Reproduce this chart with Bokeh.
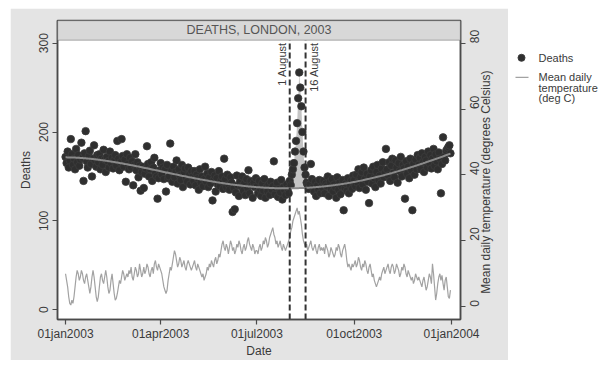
import numpy as np
import pandas as pd
from bokeh.plotting import figure
from bokeh.models import Range1d, LinearAxis, FixedTicker, BoxAnnotation, Label
from bokeh.layouts import row
from bokeh.embed import file_html
from bokeh.resources import INLINE
from bokeh.core.properties import value

# ---------------- data ----------------
deaths_jan = [172, 165, 178, 160, 168, 192, 175, 163, 170, 158, 181, 166, 174, 162, 169, 188, 171, 145, 176, 201, 167, 160, 173, 179, 164, 150, 170, 185, 168, 161, 174]
deaths_feb = [166, 175, 158, 170, 163, 180, 169, 155, 172, 167, 160, 178, 165, 171, 159, 168, 174, 162, 190, 170, 157, 166, 192, 173, 161, 169, 144, 175]
deaths_mar = [164, 158, 171, 160, 167, 140, 163, 175, 157, 166, 149, 162, 134, 155, 161, 137, 153, 159, 184, 164, 150, 158, 166, 145, 160, 171, 154, 150, 125, 148, 157]
deaths_apr = [165, 152, 160, 147, 158, 133, 163, 148, 150, 187, 156, 144, 161, 149, 155, 168, 142, 158, 151, 146, 163, 138, 154, 159, 148, 144, 160, 152, 141, 156]
deaths_may = [150, 145, 156, 140, 152, 148, 135, 158, 143, 150, 139, 147, 161, 144, 153, 138, 149, 142, 155, 123, 146, 151, 133, 148, 141, 156, 139, 145, 150, 136, 170]
deaths_jun = [147, 138, 152, 141, 135, 149, 143, 110, 137, 113, 132, 151, 140, 128, 144, 139, 150, 134, 142, 129, 147, 137, 157, 131, 145, 140, 126, 143, 138, 148]
deaths_jul = [139, 131, 145, 136, 128, 142, 134, 147, 126, 138, 133, 141, 129, 144, 135, 139, 167, 130, 137, 143, 127, 136, 132, 146, 124, 138, 134, 129, 141, 136, 131]
deaths_aug = [145, 140, 152, 158, 165, 178, 190, 210, 238, 267, 250, 229, 200, 178, 160, 152, 143, 140, 136, 141, 164, 147, 138, 133, 144, 128, 140, 135, 146, 131, 139]
deaths_sep = [137, 145, 131, 142, 139, 150, 128, 144, 136, 147, 133, 141, 138, 126, 149, 135, 143, 130, 139, 146, 112, 137, 142, 134, 148, 131, 140, 145, 136, 151]
deaths_oct = [146, 139, 152, 143, 158, 137, 149, 155, 141, 160, 147, 135, 153, 144, 120, 150, 157, 142, 161, 148, 138, 155, 163, 146, 151, 142, 159, 166, 149, 154, 181]
deaths_nov = [158, 151, 166, 145, 162, 170, 154, 149, 168, 160, 143, 165, 156, 172, 150, 163, 159, 125, 167, 153, 161, 148, 170, 157, 112, 164, 152, 169, 158, 174]
deaths_dec = [163, 171, 158, 176, 166, 155, 172, 168, 160, 178, 165, 174, 159, 170, 181, 162, 175, 167, 158, 177, 170, 131, 164, 194, 172, 168, 179, 181, 183, 185, 176]

temp_jan = [10, 8, 6, 3, 1, 0.5, 2, 1, 3, 6, 9, 11, 10, 8, 9, 11, 10, 8, 7, 9, 10, 8, 6, 4, 6, 9, 11, 9, 6, 3, 1.5]
temp_feb = [3, 6, 9, 10, 8, 7, 9, 11, 9, 6, 4, 5, 8, 10, 7, 4, 2, 2.5, 4, 6, 8, 7, 9, 11, 10, 8, 9, 10]
temp_mar = [9, 11, 10, 12, 9, 8, 10, 12, 11, 9, 10, 13, 11, 9, 10, 12, 10, 11, 13, 12, 10, 9, 11, 12, 10, 13, 14, 12, 11, 13, 12]
temp_apr = [11, 10, 8, 6, 5, 4, 5, 8, 10, 12, 11, 13, 15, 17, 16, 14, 12, 13, 15, 14, 12, 13, 14, 12, 11, 13, 14, 13, 12, 11]
temp_may = [12, 13, 14, 12, 11, 13, 12, 11, 10, 9, 10, 8, 9, 10, 12, 11, 13, 12, 14, 13, 12, 14, 15, 13, 14, 16, 15, 17, 19, 20, 18]
temp_jun = [17, 19, 18, 16, 18, 20, 19, 17, 18, 16, 17, 19, 18, 20, 19, 17, 16, 18, 19, 17, 18, 20, 21, 19, 18, 17, 19, 18, 16, 17]
temp_jul = [17, 16, 18, 19, 17, 18, 20, 19, 21, 20, 18, 19, 21, 22, 23, 24, 22, 21, 19, 20, 18, 19, 20, 18, 17, 19, 18, 17, 18, 19, 20]
temp_aug = [21, 23, 24, 26, 27, 28, 29, 30, 28, 29, 27, 25, 22, 20, 19, 18, 19, 17, 18, 19, 20, 18, 17, 18, 19, 17, 16, 18, 19, 17, 18]
temp_sep = [17, 18, 16, 19, 18, 17, 15, 16, 18, 17, 16, 15, 16, 18, 17, 19, 18, 16, 15, 17, 18, 19, 17, 14, 12, 13, 12, 11, 13, 12]
temp_oct = [13, 14, 12, 13, 15, 14, 12, 11, 13, 12, 14, 13, 11, 10, 12, 13, 11, 9, 10, 8, 7, 6, 7, 8, 9, 8, 10, 11, 12, 10, 11]
temp_nov = [12, 13, 11, 10, 12, 13, 12, 10, 11, 13, 12, 11, 9, 10, 12, 11, 13, 12, 10, 9, 11, 10, 9, 8, 9, 7, 8, 10, 9, 8]
temp_dec = [9, 8, 7, 6, 8, 9, 7, 5, 6, 8, 10, 9, 7, 13, 10, 6, 2, 4, 7, 9, 10, 8, 9.5, 7, 5, 8, 9, 6, 3, 2.5, 5]

tick_dates = ["2003-01-01", "2003-04-01", "2003-07-01", "2003-10-01", "2004-01-01"]
tick_labels = ["01jan2003", "01apr2003", "01jul2003", "01oct2003", "01jan2004"]
deaths_ticks = [0, 100, 200, 300]
temp_ticks = [0, 20, 40, 60, 80]
event_dates = ["2003-08-01", "2003-08-16"]
event_labels = ["1 August", "16 August"]
title_text = "DEATHS, LONDON, 2003"
right_title = "Mean daily temperature (degrees Celsius)"
legend_deaths = "Deaths"
legend_temp = ["Mean daily", "temperature", "(deg C)"]

# ---------------- derived ----------------
deaths = np.array(deaths_jan + deaths_feb + deaths_mar + deaths_apr + deaths_may + deaths_jun +
                  deaths_jul + deaths_aug + deaths_sep + deaths_oct + deaths_nov + deaths_dec, float)
temp = np.array(temp_jan + temp_feb + temp_mar + temp_apr + temp_may + temp_jun +
                temp_jul + temp_aug + temp_sep + temp_oct + temp_nov + temp_dec, float)
dates = pd.date_range("2003-01-01", periods=len(deaths), freq="D")

def ms(d):
    return pd.Timestamp(d).value / 1e6

DAY = 86400000.0
ev0, ev1 = pd.Timestamp(event_dates[0]), pd.Timestamp(event_dates[1])
# seasonal baseline fitted to non-heatwave days
t = np.arange(len(deaths)) / 365.0
mask = (dates >= ev0) & (dates <= ev1 + pd.Timedelta(days=4))
coef = np.polyfit(t[~mask], deaths[~mask], 4)
baseline = np.polyval(coef, t)
hw = (dates >= ev0) & (dates <= ev1)

FONT = "Liberation Sans"
TXT = "#3a3a3a"
AX = "#4a4a4a"

x_start = ms(tick_dates[0]) - 7.6 * DAY
x_end = ms(tick_dates[-1]) + 8.5 * DAY
y_bot = -11
y_top = 325.5
bar_bottom = 303.3
t_bot, t_top = -3.9, 86.9

p = figure(width=498, height=352, x_axis_type="datetime",
           x_range=Range1d(x_start, x_end), y_range=Range1d(y_bot, y_top),
           output_backend="svg", toolbar_location=None,
           min_border_left=47, min_border_right=48, min_border_top=12, min_border_bottom=37,
           margin=(8, 0, 0, 10),
           background_fill_color="white", border_fill_color="#e4e4e4",
           outline_line_color=AX, outline_line_width=1.5)
p.grid.visible = False
p.extra_y_ranges = {"temp": Range1d(t_bot, t_top)}

# temperature
p.line(dates, temp, y_range_name="temp", line_color="#a2a2a2", line_width=1.2)
# excess deaths shading
p.varea(x=dates[hw], y1=baseline[hw], y2=np.maximum(deaths[hw], baseline[hw]),
        fill_color="#c4c4c4")
# deaths points
p.scatter(dates, deaths, size=7.5, fill_color="#2f2f2f", line_color="#3c3c3c", line_width=0.8)
# seasonal smooth
p.line(dates, baseline, line_color="#8a8a8a", line_width=2)
# event lines
p.segment(x0=[ev0, ev1], y0=[y_bot, y_bot], x1=[ev0, ev1], y1=[bar_bottom, bar_bottom],
          line_color="#333333", line_width=2, line_dash="6 3")

# title bar
p.add_layout(BoxAnnotation(bottom=bar_bottom, top=y_top, left=x_start, right=x_end,
                           fill_color="#d8d8d8", fill_alpha=1.0,
                           line_color="#555555", line_width=1.5))
p.add_layout(Label(x=(x_start + x_end) / 2, y=(bar_bottom + y_top) / 2, text=title_text,
                   text_align="center", text_baseline="middle", text_font=FONT,
                   text_font_size="12.5px", text_color="#555555"))

# event labels
for d, lab, side in zip(event_dates, event_labels, [-1, 1]):
    p.add_layout(Label(x=ms(d), y=301, text=lab, angle=np.pi / 2,
                       text_align="right", text_baseline="bottom" if side < 0 else "top",
                       x_offset=2 * side, text_font=FONT, text_font_size="11px",
                       text_color=TXT))

# axes
def style(ax):
    ax.axis_line_color = AX
    ax.axis_line_width = 1.5
    ax.major_tick_line_color = AX
    ax.major_tick_line_width = 1.2
    ax.major_tick_out = 5
    ax.major_tick_in = 0
    ax.minor_tick_line_color = None
    ax.major_label_text_font = FONT
    ax.major_label_text_font_size = "12px"
    ax.major_label_text_color = TXT
    ax.axis_label_text_font = FONT
    ax.axis_label_text_font_size = "12px"
    ax.axis_label_text_font_style = "normal"
    ax.axis_label_text_color = TXT

xa = p.xaxis[0]
style(xa)
tick_ms = [ms(d) for d in tick_dates]
xa.ticker = FixedTicker(ticks=tick_ms)
xa.major_label_overrides = {k: v for k, v in zip(tick_ms, tick_labels)}
xa.axis_label = "Date"
xa.major_label_standoff = 2
xa.axis_label_standoff = 0

ya = p.yaxis[0]
style(ya)
ya.ticker = FixedTicker(ticks=deaths_ticks)
ya.axis_label = "Deaths"
ya.major_label_orientation = "vertical"
ya.major_label_standoff = 4
ya.axis_label_standoff = 4

ra = LinearAxis(y_range_name="temp")
style(ra)
ra.ticker = FixedTicker(ticks=temp_ticks)
ra.major_label_orientation = np.pi / 2
ra.major_label_standoff = 9
p.add_layout(ra, "right")

# right axis title (reads bottom-to-top, centred on the frame)
t_mid = (t_bot + t_top) / 2
rt = LinearAxis(y_range_name="temp")
style(rt)
rt.ticker = FixedTicker(ticks=[t_mid])
rt.major_label_overrides = {t_mid: right_title}
rt.major_label_orientation = np.pi / 2
rt.axis_line_color = None
rt.major_tick_line_color = None
rt.major_tick_out = 0
rt.major_label_standoff = 0
p.add_layout(rt, "right")

# legend panel
lg = figure(width=93, height=365, x_range=Range1d(0, 93), y_range=Range1d(365, 0),
            x_axis_location=None, y_axis_location=None, toolbar_location=None,
            output_backend="svg", min_border=0, outline_line_color=None,
            background_fill_color="white", border_fill_color="white")
lg.grid.visible = False
lg.scatter(x=[13], y=[53], size=7, fill_color="#2f2f2f", line_color="#3c3c3c")
lg.line(x=[7, 20], y=[76, 76], line_color="#a2a2a2", line_width=1.2)
lg.text(x=[30] * 4, y=[53, 76, 88.5, 100.5], text=[legend_deaths] + legend_temp,
        text_baseline="middle", text_font=value(FONT), text_font_size="11px",
        text_color=TXT)

layout = row(p, lg)
open("out.html", "w").write(file_html(layout, INLINE))
